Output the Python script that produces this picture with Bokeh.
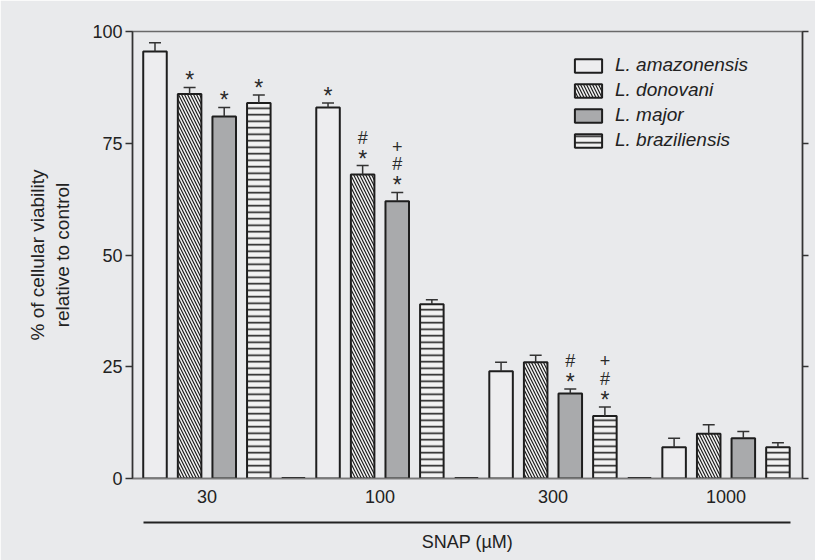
from bokeh.plotting import figure
from bokeh.models import (Range1d, LinearAxis, FixedTicker, CustomJSTickFormatter, Legend,
                          LegendItem, ColumnDataSource, Whisker, TeeHead)
from bokeh.core.properties import value
from bokeh.embed import file_html
from bokeh.resources import INLINE

# ---------------- data ----------------
doses = ["30", "100", "300", "1000"]
species = ["L. amazonensis", "L. donovani", "L. major", "L. braziliensis"]

amazonensis = [95.5, 83.0, 24.0, 7.0]
amazonensis_err = [2.0, 1.0, 2.0, 2.0]
donovani = [86.0, 68.0, 26.0, 10.0]
donovani_err = [1.5, 2.0, 1.6, 2.0]
major = [81.0, 62.0, 19.0, 9.0]
major_err = [2.0, 2.0, 1.0, 1.5]
braziliensis = [84.0, 39.0, 14.0, 7.0]
braziliensis_err = [1.8, 1.0, 2.0, 1.0]

amazonensis_sig = ["", "*", "", ""]
donovani_sig = ["*", "*#", "", ""]
major_sig = ["*", "*#+", "*#", ""]
braziliensis_sig = ["*", "", "*#+", ""]

y_ticks = [0, 25, 50, 75, 100]

values = [amazonensis, donovani, major, braziliensis]
errors = [amazonensis_err, donovani_err, major_err, braziliensis_err]
sigs = [amazonensis_sig, donovani_sig, major_sig, braziliensis_sig]

# ---------------- styling ----------------
BG = "#e9eaec"
DARK = "#222222"
FONT = "Liberation Sans"
SLOTS = len(species) + 1          # 4 bars + one empty slot per dose group
BAR_W = 0.68

styles = [
    dict(fill_color="#ededef"),
    dict(fill_color="#f3f3f3", hatch_pattern="\\", hatch_color="#1e1e1e", hatch_scale=6, hatch_weight=1.2),
    dict(fill_color="#a9aaac"),
    dict(fill_color="#f3f3f3", hatch_pattern="-", hatch_color="#1e1e1e", hatch_scale=6.5, hatch_weight=1.6),
]
mark_style = {"*": ("23px", -7), "#": ("18px", -28), "+": ("18px", -46)}

n_groups = len(doses)
group_centers = [g * SLOTS + (len(species) - 1) / 2 for g in range(n_groups)]
spacer_x = [g * SLOTS + len(species) for g in range(n_groups - 1)]
last_slot = (n_groups - 1) * SLOTS + len(species) - 1

p = figure(width=815, height=560,
           x_range=Range1d(-0.65, last_slot + 0.71), y_range=Range1d(0, 100),
           output_backend="svg", toolbar_location=None,
           min_border_left=132, min_border_right=13, min_border_top=31, min_border_bottom=82,
           background_fill_color=BG, border_fill_color=BG,
           outline_line_color="#6a6a6a", outline_line_width=1.5)
p.xgrid.visible = False
p.ygrid.visible = False

renderers = []
wx, wl, wu = [], [], []
mx, my, mt, ms, mo = [], [], [], [], []
for i, sp in enumerate(species):
    xs = [g * SLOTS + i for g in range(n_groups)]
    src = ColumnDataSource(dict(x=xs, top=values[i]))
    r = p.vbar(x="x", top="top", width=BAR_W, source=src,
               line_color="#1e1e1e", line_width=2, **styles[i])
    renderers.append(r)
    for g in range(n_groups):
        wx.append(xs[g])
        wl.append(values[i][g])
        wu.append(values[i][g] + errors[i][g])
        for ch in sigs[i][g]:
            size, off = mark_style[ch]
            mx.append(xs[g])
            my.append(values[i][g] + errors[i][g])
            mt.append(ch)
            ms.append(size)
            mo.append(off)

# empty slots between dose groups (drawn as a flat bar on the baseline)
p.segment(x0=[x - BAR_W / 2 for x in spacer_x], x1=[x + BAR_W / 2 for x in spacer_x],
          y0=[0] * len(spacer_x), y1=[0] * len(spacer_x), line_color="#1e1e1e", line_width=3)

wsrc = ColumnDataSource(dict(x=wx, lower=wl, upper=wu))
p.add_layout(Whisker(source=wsrc, base="x", lower="lower", upper="upper", dimension="height",
                     lower_head=None,
                     upper_head=TeeHead(size=12, line_color="#333333", line_width=1.5),
                     line_color="#333333", line_width=1.5, level="glyph"))

msrc = ColumnDataSource(dict(x=mx, y=my, text=mt, size=ms, off=mo))
p.text(x="x", y="y", text="text", source=msrc, text_align="center", text_baseline="alphabetic",
       text_font=value(FONT), text_font_size="size", y_offset="off", text_color="#2a2a2a")

# ---------------- axes ----------------
ya = p.yaxis[0]
ya.ticker = FixedTicker(ticks=y_ticks)
ya.major_tick_out = 7
ya.major_tick_in = 0
ya.minor_tick_line_color = None
ya.axis_line_color = "#333333"
ya.axis_line_width = 1.5
ya.major_tick_line_color = "#333333"
ya.major_tick_line_width = 1.5
ya.major_label_text_font = FONT
ya.major_label_text_font_size = "18px"
ya.major_label_text_color = DARK
ya.major_label_standoff = 3
ya.axis_label = "% of cellular viability\nrelative to control"
ya.axis_label_text_font = FONT
ya.axis_label_text_font_size = "19px"
ya.axis_label_text_font_style = "normal"
ya.axis_label_text_color = DARK
ya.axis_label_standoff = 16

ry = LinearAxis(ticker=FixedTicker(ticks=y_ticks), formatter=CustomJSTickFormatter(code="return ''"),
                major_tick_out=6, major_tick_in=0, minor_tick_line_color=None,
                axis_line_color="#333333", axis_line_width=1.5,
                major_tick_line_color="#333333", major_tick_line_width=1.5,
                major_label_standoff=0, major_label_text_color=None)
p.add_layout(ry, "right")

xa = p.xaxis[0]
xa.ticker = FixedTicker(ticks=group_centers)
xa.major_label_overrides = {c: d for c, d in zip(group_centers, doses)}
xa.major_tick_out = 0
xa.major_tick_in = 0
xa.minor_tick_line_color = None
xa.major_tick_line_color = None
xa.axis_line_color = "#7a7a7a"
xa.axis_line_width = 1.5
xa.major_label_text_font = FONT
xa.major_label_text_font_size = "18px"
xa.major_label_text_color = DARK
xa.major_label_standoff = 11

# invisible spacer between the dose labels and the SNAP rule
spacer = LinearAxis(ticker=FixedTicker(ticks=group_centers[:1]),
                    formatter=CustomJSTickFormatter(code="return ''"),
                    axis_line_color=None, major_tick_out=17,
                    major_tick_in=0, major_tick_line_color=None, minor_tick_line_color=None,
                    major_label_standoff=0, major_label_text_color=None)
p.add_layout(spacer, "below")

snap = LinearAxis(ticker=FixedTicker(ticks=[]), bounds=(-0.33, last_slot + 0.37),
                  axis_line_color="#222222", axis_line_width=2,
                  major_tick_out=0, major_tick_in=0, major_tick_line_color=None,
                  minor_tick_line_color=None, major_label_standoff=0, major_label_text_color=None,
                  axis_label="SNAP (µM)", axis_label_standoff=9, axis_label_text_font=FONT,
                  axis_label_text_font_size="18px", axis_label_text_font_style="normal",
                  axis_label_text_color=DARK)
p.add_layout(snap, "below")

# ---------------- legend ----------------
legend = Legend(items=[LegendItem(label=species[i], renderers=[renderers[i]]) for i in range(len(species))],
                location=(439, 327), padding=0, margin=0, spacing=3,
                glyph_width=34, glyph_height=17, label_standoff=10,
                label_text_font=FONT, label_text_font_size="19px", label_text_font_style="italic",
                label_text_color=DARK, background_fill_alpha=0, border_line_color=None)
p.add_layout(legend)

html = file_html(p, INLINE)
html = html.replace("<body>", '<body style="background-color:#e9eaec;">', 1)
open("out.html", "w").write(html)
